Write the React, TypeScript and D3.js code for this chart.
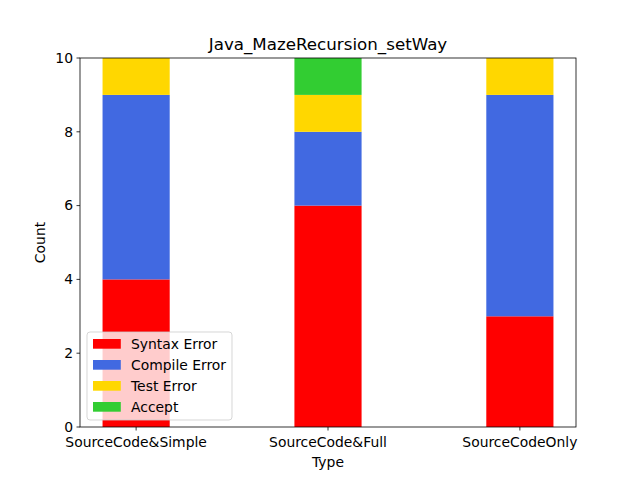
import React from 'react';
import * as d3 from 'd3';

const categories = ['SourceCode&Simple', 'SourceCode&Full', 'SourceCodeOnly'];
const seriesNames = ['Syntax Error', 'Compile Error', 'Test Error', 'Accept'];
const syntaxError = [4, 6, 3];
const compileError = [5, 2, 6];
const testError = [1, 1, 1];
const accept = [0, 1, 0];
const yTicks = [0, 2, 4, 6, 8, 10];
const colors = ['#ff0000', '#4169e1', '#ffd700', '#32cd32'];

const W = 640;
const H = 480;
const M = { left: 80, right: 576, top: 58, bottom: 427 };
const FONT = 'DejaVu Sans, sans-serif';

const App = () => {
  const series = [syntaxError, compileError, testError, accept];
  const rows = categories.map((c, i) => {
    const r: any = { cat: c };
    seriesNames.forEach((s, k) => (r[s] = series[k][i]));
    return r;
  });
  const stacked = d3.stack().keys(seriesNames)(rows);

  const barW = 0.35;
  const pad = (categories.length - 1 + barW) * 0.05;
  const x = d3.scaleLinear()
    .domain([-barW / 2 - pad, categories.length - 1 + barW / 2 + pad])
    .range([M.left, M.right]);
  const y = d3.scaleLinear().domain([0, 10]).range([M.bottom, M.top]);
  const bw = x(barW) - x(0);

  const legX = 87;
  const legY = 332;

  return (
    <svg width={W} height={H} style={{ display: 'block', margin: '-8px' }}>
      <rect width={W} height={H} fill="#fff" />
      {stacked.map((layer, k) => (
        <g key={layer.key}>
          {layer.map((d, i) => (
            <rect
              key={i}
              x={x(i) - bw / 2}
              y={y(d[1])}
              width={bw}
              height={y(d[0]) - y(d[1])}
              fill={colors[k]}
            />
          ))}
        </g>
      ))}
      <rect x={M.left} y={M.top} width={M.right - M.left} height={M.bottom - M.top}
        fill="none" stroke="#000" strokeWidth={0.8} />
      {yTicks.map(t => (
        <g key={t}>
          <line x1={M.left - 3.5} x2={M.left} y1={y(t)} y2={y(t)} stroke="#000" strokeWidth={0.8} />
          <text x={M.left - 7} y={y(t)} dy="0.35em" textAnchor="end" fontFamily={FONT} fontSize={13.9}>{t}</text>
        </g>
      ))}
      {categories.map((c, i) => (
        <g key={c}>
          <line x1={x(i)} x2={x(i)} y1={M.bottom} y2={M.bottom + 3.5} stroke="#000" strokeWidth={0.8} />
          <text x={x(i)} y={M.bottom + 20} textAnchor="middle" fontFamily={FONT} fontSize={13.9}>{c}</text>
        </g>
      ))}
      <text x={(M.left + M.right) / 2} y={467} textAnchor="middle" fontFamily={FONT} fontSize={13.9}>Type</text>
      <text transform={`translate(45,${(M.top + M.bottom) / 2}) rotate(-90)`} textAnchor="middle" fontFamily={FONT} fontSize={13.9}>Count</text>
      <text x={(M.left + M.right) / 2} y={50} textAnchor="middle" fontFamily={FONT} fontSize={16.7}>Java_MazeRecursion_setWay</text>
      <g>
        <rect x={legX} y={legY} width={145} height={88} rx={3} fill="#fff" fillOpacity={0.8} stroke="#cccccc" strokeOpacity={0.8} strokeWidth={1} />
        {seriesNames.map((s, k) => (
          <g key={s} transform={`translate(${legX + 6},${legY + 12 + k * 21})`}>
            <rect x={0} y={-5} width={27.8} height={9.7} fill={colors[k]} />
            <text x={38} y={0} dy="0.35em" fontFamily={FONT} fontSize={13.9}>{s}</text>
          </g>
        ))}
      </g>
    </svg>
  );
};

export default App;
